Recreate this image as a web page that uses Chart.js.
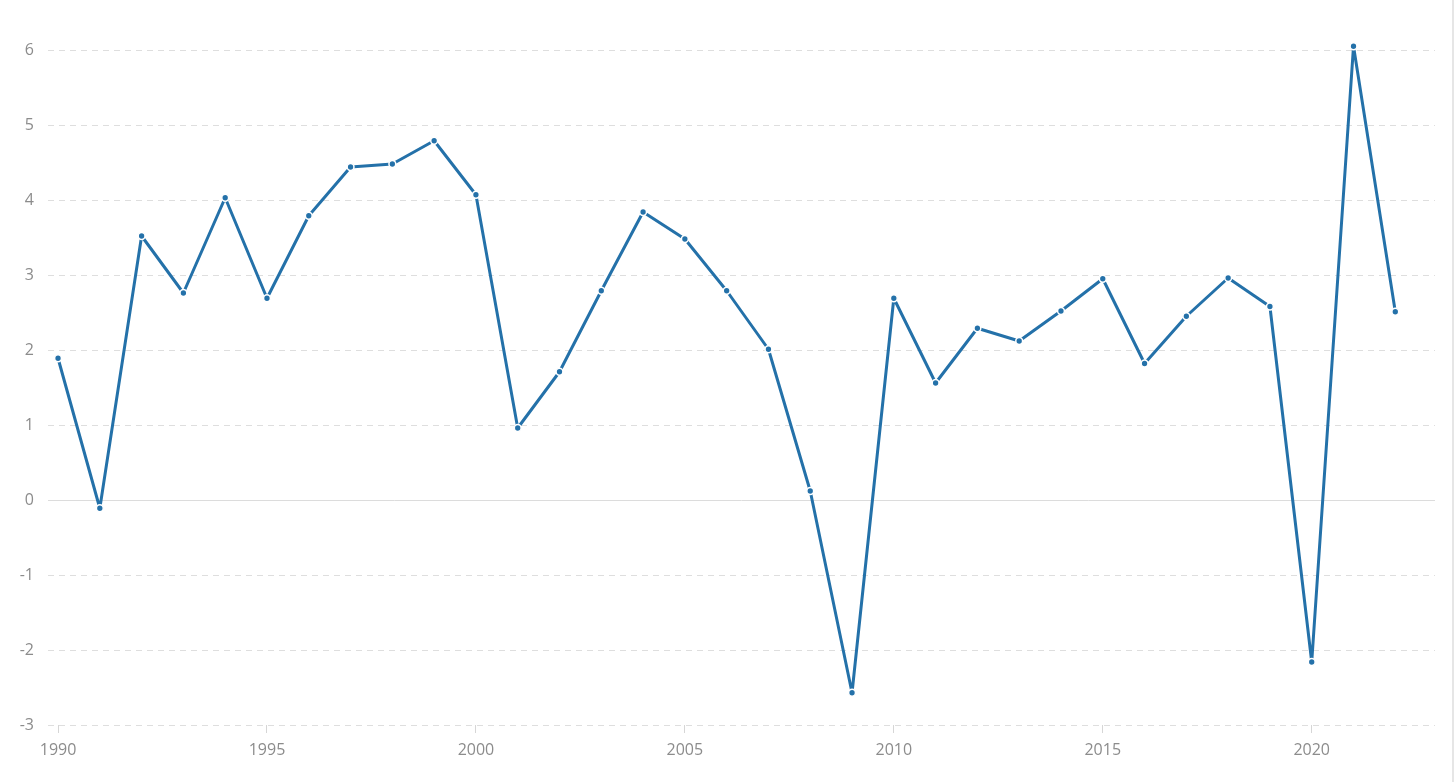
<!DOCTYPE html>
<html>
<head>
<meta charset="utf-8">
<script src="https://cdn.jsdelivr.net/npm/chart.js@4/dist/chart.umd.min.js"></script>
<style>
  html, body { margin: 0; padding: 0; background: #fff; }
  #wrap { position: relative; width: 1452px; height: 782px; border-right: 2px solid #e6e6e6; }
</style>
</head>
<body>
<div id="wrap"><canvas id="growth"></canvas></div>
<script>
// annual values
const years = [1990, 1991, 1992, 1993, 1994, 1995, 1996, 1997, 1998, 1999,
               2000, 2001, 2002, 2003, 2004, 2005, 2006, 2007, 2008, 2009,
               2010, 2011, 2012, 2013, 2014, 2015, 2016, 2017, 2018, 2019,
               2020, 2021, 2022];
const growth = [1.89, -0.11, 3.52, 2.76, 4.03, 2.69, 3.79, 4.44, 4.48, 4.79,
                4.07, 0.96, 1.71, 2.79, 3.84, 3.48, 2.79, 2.01, 0.12, -2.57,
                2.69, 1.56, 2.29, 2.12, 2.52, 2.95, 1.82, 2.45, 2.96, 2.58,
                -2.16, 6.05, 2.51];
const xTicks = [1990, 1995, 2000, 2005, 2010, 2015, 2020];
const yTicks = [-3, -2, -1, 0, 1, 2, 3, 4, 5, 6];

const lineColor = '#2471a9';
const labelFont = { family: "'Open Sans', sans-serif", size: 16 };

let ctx = document.getElementById('growth').getContext('2d');
let growthChart = new Chart(ctx, {
    type: 'line',
    data: {
        datasets: [{
            label: 'GDP growth',
            data: years.map((y, i) => ({ x: y, y: growth[i] })),
            borderColor: lineColor,
            borderWidth: 3,
            borderJoinStyle: 'round',
            pointRadius: 3.4,
            pointBackgroundColor: lineColor,
            pointBorderColor: '#ffffff',
            pointBorderWidth: 1.5,
            tension: 0,
            clip: false
        }]
    },
    options: {
        responsive: true,
        maintainAspectRatio: false,
        animation: false,
        layout: { padding: { top: 50, right: 17, bottom: 0, left: 0 } },
        plugins: {
            legend: { display: false },
            tooltip: { enabled: false }
        },
        scales: {
            x: {
                type: 'linear',
                min: 1989.76,
                max: 2022.95,
                afterBuildTicks: (scale) => { scale.ticks = xTicks.map(v => ({ value: v })); },
                afterFit: (scale) => { scale.height = 57; },
                grid: {
                    drawOnChartArea: false,
                    drawTicks: true,
                    tickLength: 8,
                    tickColor: '#d6d6d6'
                },
                border: { display: false },
                ticks: {
                    color: '#8c8c8c',
                    font: labelFont,
                    padding: 8,
                    maxRotation: 0,
                    autoSkip: false,
                    callback: (v) => String(v)
                }
            },
            y: {
                min: -3,
                max: 6,
                afterBuildTicks: (scale) => { scale.ticks = yTicks.map(v => ({ value: v })); },
                afterFit: (scale) => { scale.width = 48; },
                grid: {
                    drawTicks: false,
                    lineWidth: 1,
                    color: (c) => c.tick && c.tick.value === 0 ? '#dcdcdc' : '#dedede'
                },
                border: {
                    display: false,
                    dash: (c) => c.tick && c.tick.value === 0 ? [] : [6, 5]
                },
                ticks: {
                    color: '#8c8c8c',
                    font: labelFont,
                    padding: 14,
                    callback: (v) => String(v)
                }
            }
        }
    }
});
</script>
</body>
</html>
